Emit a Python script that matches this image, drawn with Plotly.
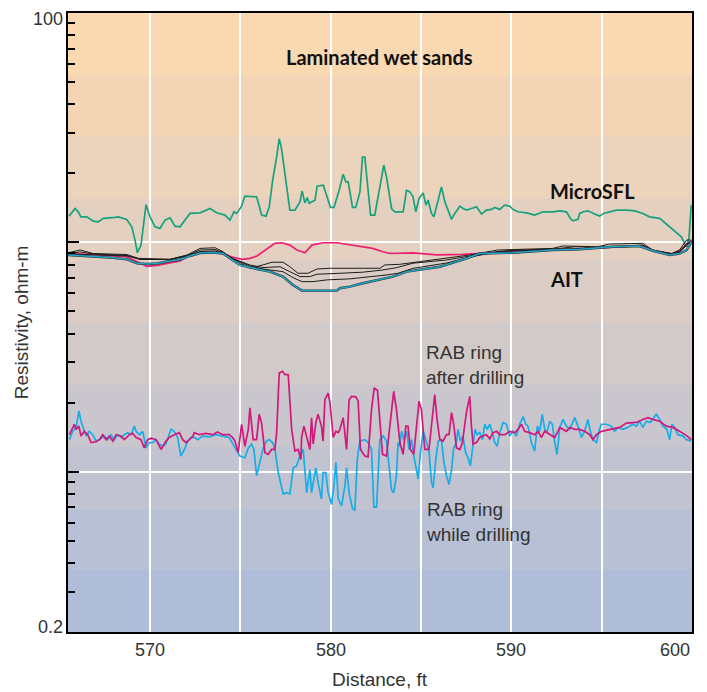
import plotly.graph_objects as go

# ---------------- data (distance in ft, resistivity in ohm-m) ----------------
micro_x = [565.52, 565.85, 566.03, 566.17, 566.50, 566.86, 567.14, 567.42, 568.06, 568.25,
           568.71, 568.99, 569.17, 569.30, 569.50, 569.78, 570.00, 570.28, 570.55, 570.83,
           571.11, 571.38, 571.66, 572.21, 572.77, 573.32, 573.69, 574.15, 574.42, 574.65,
           574.80, 575.07, 575.25, 575.62, 575.90, 576.18, 576.42, 576.60, 576.79, 577.01,
           577.15, 577.28, 577.47, 577.74, 578.02, 578.30, 578.42, 578.57, 578.70, 578.81,
           579.13, 579.25, 579.59, 579.77, 579.99, 580.18, 580.47, 580.69, 580.84, 580.97,
           581.21, 581.39, 581.62, 581.76, 581.89, 582.07, 582.21, 582.44, 582.63, 582.82,
           582.94, 583.09, 583.27, 583.37, 583.55, 584.01, 584.20, 584.38, 584.56, 584.71,
           584.89, 585.12, 585.27, 585.39, 585.58, 585.71, 585.95, 586.13, 586.32, 586.47,
           586.69, 586.87, 587.15, 587.33, 587.52, 587.79, 588.07, 588.35, 588.62, 588.90,
           589.08, 589.36, 589.63, 589.91, 590.09, 590.37, 590.84, 591.29, 591.75, 592.03,
           592.31, 592.68, 593.05, 593.27, 593.41, 593.69, 593.78, 594.00, 594.24, 594.61,
           594.89, 595.11, 595.44, 595.81, 596.37, 596.83, 597.28, 597.65, 598.21, 598.76,
           599.13, 599.41, 599.59, 599.68, 599.83, 599.96]
micro_y = [13.01, 14.05, 13.59, 12.92, 12.92, 12.38, 12.29, 12.72, 12.84, 12.92,
           12.59, 11.69, 10.23, 9.01, 9.73, 14.6, 12.92, 11.69, 11.5, 12.5,
           12.79, 11.77, 11.69, 13.37, 13.45, 14.05, 13.45, 13.15, 12.5, 13.59,
           13.37, 14.38, 15.9, 15.9, 15.79, 13.15, 13.01, 14.3, 18.66, 23.56,
           28.33, 25.63, 19.62, 13.82, 13.82, 15.02, 16.76, 14.87, 15.69, 14.8,
           15.27, 17.57, 17.75, 15.9, 14.2, 14.2, 16.88, 19.82, 18.34, 18.34,
           14.2, 14.2, 16.6, 23.56, 23.56, 16.88, 13.15, 13.15, 15.79, 18.98,
           21.68, 19.29, 15.79, 14.05, 13.59, 13.59, 16.88, 16.6, 15.79, 13.59,
           15.53, 16.43, 14.53, 15.27, 13.37, 12.92, 15.27, 17.45, 15.02, 14.05,
           12.59, 13.37, 14.38, 14.05, 13.82, 14.05, 14.3, 13.28, 13.82, 13.92,
           14.2, 13.92, 14.53, 14.38, 13.92, 13.59, 13.45, 13.15, 13.59, 13.59,
           13.59, 13.72, 13.59, 12.72, 12.41, 12.59, 13.37, 13.59, 13.72, 13.28,
           13.01, 13.37, 13.59, 13.82, 13.82, 13.72, 13.37, 12.92, 12.72, 11.69,
           11.1, 10.57, 9.90, 9.57, 10.4, 14.53]

# AIT curves
ait_deep_x = [565.46, 566.13, 566.85, 567.79, 568.73, 569.28, 569.83, 570.39, 571.11, 571.66,
              572.21, 572.77, 573.48, 574.04, 574.42, 574.98, 575.92, 576.64, 577.36, 577.91,
              578.41, 580.34, 580.51, 581.06, 581.78, 582.72, 583.44, 584.21, 586.04, 587.53,
              588.25, 590.08, 592.29, 593.78, 595.61, 597.10, 597.83, 598.76, 599.31, 599.70,
              599.97]
ait_deep_y = [8.81, 8.76, 8.65, 8.58, 8.43, 8.10, 8.05, 8.09, 8.29, 8.42,
              8.72, 8.98, 9.03, 8.94, 8.52, 7.97, 7.65, 7.45, 7.09, 6.52,
              6.16, 6.16, 6.31, 6.41, 6.63, 6.86, 7.09, 7.45, 7.83, 8.52,
              8.94, 9.00, 9.26, 9.32, 9.57, 9.64, 9.19, 8.81, 8.94, 9.26,
              10.06]

ait_b1_x = [565.46, 566.13, 566.85, 568.73, 569.34, 571.11, 572.05, 572.77, 573.60, 574.04,
            574.42, 575.53, 576.25, 576.75, 577.36, 577.74, 578.19, 578.74, 579.24, 579.96,
            582.72, 583.00, 583.83, 584.93, 586.43, 587.70, 589.25, 590.08, 592.29, 592.84,
            594.78, 595.44, 597.27, 597.83, 598.37, 598.87, 599.31, 599.70, 599.97]
ait_b1_y = [9.00, 9.26, 8.94, 8.85, 8.52, 8.43, 8.81, 9.41, 9.47, 9.10,
            8.66, 7.71, 7.97, 8.19, 8.19, 7.83, 7.33, 7.33, 7.65, 7.71,
            7.71, 7.97, 8.02, 8.23, 8.52, 8.81, 9.26, 9.32, 9.41, 9.64,
            9.57, 9.83, 9.90, 9.26, 9.10, 8.94, 9.26, 10.23, 10.23]

ait_b2_x = [565.46, 566.13, 566.85, 568.73, 569.45, 571.11, 572.05, 572.77, 573.60, 574.04,
            574.42, 575.53, 576.25, 577.19, 577.74, 578.30, 578.85, 579.24, 580.51, 581.78,
            582.89, 583.66, 584.55, 586.43, 587.70, 589.25, 590.08, 592.29, 593.56, 594.89,
            597.27, 597.83, 598.87, 599.31, 599.70, 599.97]
ait_b2_y = [8.94, 9.08, 8.90, 8.76, 8.43, 8.43, 8.76, 9.26, 9.30, 9.03,
            8.59, 7.97, 7.76, 7.83, 7.45, 7.09, 7.09, 7.26, 7.33, 7.41,
            7.58, 7.76, 8.11, 8.38, 8.72, 9.12, 9.23, 9.35, 9.57, 9.49,
            9.73, 9.21, 8.90, 9.17, 9.83, 10.13]

ait_b3_x = [565.46, 566.85, 568.73, 569.45, 571.11, 572.05, 572.77, 573.60, 574.04, 574.42,
            575.53, 576.25, 577.36, 577.91, 578.41, 579.02, 579.79, 581.06, 581.78, 583.11,
            583.72, 584.55, 586.43, 587.70, 589.25, 590.08, 592.29, 594.89, 597.27, 597.83,
            598.87, 599.31, 599.70, 599.97]
ait_b3_y = [8.90, 8.85, 8.72, 8.43, 8.42, 8.72, 9.12, 9.17, 8.98, 8.59,
            7.89, 7.65, 7.45, 7.02, 6.74, 6.74, 6.86, 6.93, 7.02, 7.21,
            7.33, 7.70, 8.13, 8.63, 9.08, 9.17, 9.30, 9.45, 9.64, 9.17,
            8.85, 9.08, 9.73, 10.13]

ait_shallow_x = [565.46, 566.85, 568.73, 569.45, 569.83, 570.39, 571.11, 571.66, 572.21, 572.77,
                 573.32, 573.87, 574.26, 574.59, 575.09, 575.53, 575.92, 576.25, 576.53, 576.91,
                 577.30, 577.74, 578.13, 578.57, 578.96, 579.57, 580.34, 581.06, 581.73, 582.33,
                 582.89, 583.27, 584.55, 585.87, 587.31, 588.81, 590.02, 592.29, 594.89, 597.27,
                 597.83, 598.87, 599.31, 599.70, 599.97]
ait_shallow_y = [8.94, 8.85, 8.63, 8.15, 7.86, 7.93, 8.12, 8.30, 8.81, 9.00,
                 9.04, 9.00, 8.81, 8.61, 8.43, 8.52, 8.72, 9.10, 9.41, 9.90,
                 9.96, 9.73, 9.26, 9.00, 9.73, 9.96, 9.96, 9.73, 9.57, 9.41,
                 9.10, 8.94, 9.00, 8.81, 8.87, 9.00, 9.04, 9.30, 9.45, 9.68,
                 9.21, 8.90, 9.12, 9.83, 10.13]

# RAB ring, after drilling
rab_after_x = [565.54, 565.81, 565.91, 566.06, 566.18, 566.37, 566.55, 566.74, 567.01, 567.20,
               567.38, 567.57, 567.75, 567.94, 568.12, 568.39, 568.58, 568.86, 569.04, 569.23,
               569.50, 569.68, 569.87, 570.06, 570.33, 570.61, 570.88, 571.07, 571.34, 571.62,
               571.81, 571.99, 572.17, 572.36, 572.45, 572.73, 573.10, 573.47, 573.74, 574.02,
               574.39, 574.57, 574.70, 574.88, 575.07, 575.25, 575.44, 575.53, 575.71, 575.90,
               576.04, 576.17, 576.36, 576.54, 576.73, 576.91, 577.01, 577.15, 577.34, 577.47,
               577.65, 577.84, 578.02, 578.20, 578.35, 578.39, 578.52, 578.67, 578.85, 578.94,
               579.03, 579.18, 579.30, 579.49, 579.58, 579.68, 579.86, 579.96, 580.14, 580.29,
               580.42, 580.51, 580.69, 580.88, 581.02, 581.16, 581.39, 581.52, 581.65, 581.89,
               582.07, 582.26, 582.41, 582.59, 582.72, 582.87, 583.09, 583.27, 583.49, 583.64,
               583.83, 584.01, 584.16, 584.28, 584.41, 584.60, 584.75, 584.89, 585.02, 585.21,
               585.44, 585.58, 585.76, 585.89, 586.04, 586.22, 586.41, 586.55, 586.69, 586.81,
               586.96, 587.15, 587.29, 587.51, 587.70, 587.79, 587.88, 588.07, 588.25, 588.43,
               588.62, 588.81, 588.99, 589.18, 589.36, 589.64, 589.91, 590.19, 590.37, 590.56,
               590.74, 591.02, 591.29, 591.48, 591.66, 591.85, 592.12, 592.40, 592.58, 592.68,
               593.05, 593.23, 593.51, 593.78, 594.06, 594.34, 594.52, 594.71, 594.98, 595.44,
               596.00, 596.37, 596.92, 597.28, 597.56, 597.84, 598.21, 598.58, 598.94, 599.31,
               599.68, 599.96]
rab_after_y = [1.45, 1.61, 1.53, 1.58, 1.43, 1.50, 1.45, 1.34, 1.35, 1.38,
               1.45, 1.38, 1.43, 1.36, 1.45, 1.43, 1.38, 1.45, 1.47, 1.41,
               1.38, 1.27, 1.38, 1.40, 1.38, 1.25, 1.36, 1.41, 1.45, 1.48,
               1.38, 1.34, 1.38, 1.42, 1.48, 1.45, 1.47, 1.45, 1.49, 1.45,
               1.45, 1.41, 1.36, 1.21, 1.61, 1.29, 1.53, 1.90, 1.38, 1.38,
               1.78, 1.64, 1.21, 1.19, 1.25, 1.25, 1.48, 2.69, 2.74, 2.65,
               2.65, 1.53, 1.23, 1.25, 1.13, 1.41, 1.58, 1.41, 1.25, 1.72,
               1.32, 1.64, 1.78, 1.58, 1.36, 2.06, 2.20, 2.00, 1.41, 1.50,
               1.48, 1.53, 1.72, 1.25, 2.06, 2.13, 2.12, 2.03, 1.25, 1.17,
               1.16, 1.87, 2.32, 2.26, 1.69, 1.19, 1.17, 1.58, 2.24, 1.87,
               1.34, 1.19, 1.58, 1.58, 1.25, 1.19, 1.53, 2.03, 1.87, 1.25,
               1.25, 1.64, 2.17, 1.69, 1.38, 1.36, 1.45, 1.45, 1.81, 1.61,
               1.27, 1.25, 1.34, 1.81, 2.13, 1.58, 1.32, 1.34, 1.41, 1.43,
               1.45, 1.39, 1.48, 1.50, 1.45, 1.45, 1.50, 1.48, 1.53, 1.61,
               1.50, 1.48, 1.45, 1.50, 1.41, 1.50, 1.45, 1.41, 1.50, 1.56,
               1.50, 1.56, 1.53, 1.53, 1.50, 1.45, 1.38, 1.45, 1.50, 1.53,
               1.56, 1.63, 1.64, 1.69, 1.72, 1.69, 1.66, 1.58, 1.56, 1.50,
               1.44, 1.38]

# RAB ring, while drilling
rab_while_x = [565.54, 565.72, 565.91, 566.06, 566.18, 566.37, 566.46, 566.64, 566.83, 567.01,
               567.20, 567.47, 567.66, 567.84, 568.02, 568.21, 568.40, 568.58, 568.77, 568.95,
               569.13, 569.23, 569.41, 569.60, 569.78, 569.96, 570.15, 570.33, 570.51, 570.70,
               570.88, 571.16, 571.34, 571.53, 571.71, 571.90, 572.09, 572.27, 572.45, 572.64,
               572.91, 573.28, 573.65, 574.02, 574.39, 574.66, 574.98, 575.25, 575.44, 575.62,
               575.75, 575.90, 576.08, 576.27, 576.45, 576.59, 576.78, 576.91, 577.10, 577.37,
               577.56, 577.74, 577.93, 578.11, 578.30, 578.48, 578.67, 578.85, 578.94, 579.18,
               579.30, 579.49, 579.58, 579.73, 579.86, 580.05, 580.18, 580.29, 580.42, 580.60,
               580.79, 580.88, 581.02, 581.21, 581.34, 581.47, 581.61, 581.89, 582.07, 582.26,
               582.39, 582.54, 582.72, 582.91, 583.09, 583.23, 583.37, 583.49, 583.64, 583.73,
               583.83, 583.92, 584.05, 584.20, 584.34, 584.48, 584.60, 584.75, 584.84, 584.97,
               585.12, 585.27, 585.45, 585.58, 585.67, 585.82, 585.95, 586.13, 586.26, 586.41,
               586.55, 586.69, 586.81, 586.96, 587.05, 587.18, 587.32, 587.47, 587.60, 587.73,
               587.84, 587.99, 588.10, 588.25, 588.40, 588.53, 588.66, 588.81, 588.95, 589.08,
               589.21, 589.36, 589.54, 589.73, 589.91, 590.09, 590.28, 590.46, 590.65, 590.80,
               590.92, 591.11, 591.29, 591.44, 591.57, 591.71, 591.85, 591.97, 592.12, 592.27,
               592.40, 592.53, 592.68, 592.86, 593.05, 593.23, 593.51, 593.69, 593.88, 594.06,
               594.24, 594.37, 594.52, 594.71, 594.85, 594.98, 595.26, 595.53, 595.72, 595.90,
               596.18, 596.45, 596.70, 596.92, 597.10, 597.28, 597.47, 597.69, 597.88, 598.02,
               598.21, 598.39, 598.61, 598.76, 598.89, 599.04, 599.22, 599.50, 599.68, 599.96]
rab_while_y = [1.38, 1.50, 1.56, 1.84, 1.66, 1.50, 1.43, 1.50, 1.45, 1.36,
               1.38, 1.43, 1.38, 1.45, 1.38, 1.45, 1.41, 1.45, 1.48, 1.45,
               1.58, 1.50, 1.45, 1.50, 1.27, 1.34, 1.34, 1.38, 1.32, 1.29,
               1.32, 1.53, 1.50, 1.41, 1.17, 1.25, 1.36, 1.41, 1.41, 1.38,
               1.43, 1.42, 1.45, 1.43, 1.41, 1.29, 1.17, 1.15, 1.27, 1.32,
               1.25, 0.96, 1.10, 1.27, 1.36, 1.38, 1.34, 1.26, 0.99, 0.80,
               0.81, 0.80, 1.04, 1.06, 1.17, 1.25, 0.81, 1.02, 0.81, 1.04,
               0.90, 0.76, 0.99, 0.99, 0.81, 0.72, 0.87, 1.10, 0.76, 0.71,
               0.87, 1.04, 0.81, 0.69, 0.68, 1.13, 1.36, 1.38, 1.34, 1.25,
               0.70, 0.70, 1.38, 1.43, 1.36, 1.06, 0.83, 0.81, 0.96, 1.34,
               1.29, 1.50, 1.38, 1.50, 1.25, 1.38, 1.17, 1.02, 0.93, 1.21,
               1.50, 1.38, 1.21, 0.90, 0.85, 1.13, 1.36, 1.38, 1.11, 0.96,
               0.88, 1.02, 1.27, 1.34, 1.53, 1.36, 1.43, 1.21, 1.15, 1.06,
               1.27, 1.53, 1.45, 1.48, 1.38, 1.61, 1.53, 1.61, 1.48, 1.34,
               1.29, 1.48, 1.64, 1.61, 1.43, 1.50, 1.43, 1.61, 1.74, 1.61,
               1.58, 1.34, 1.23, 1.58, 1.50, 1.78, 1.53, 1.48, 1.66, 1.61,
               1.34, 1.19, 1.56, 1.69, 1.58, 1.53, 1.72, 1.58, 1.41, 1.50,
               1.69, 1.50, 1.38, 1.34, 1.50, 1.61, 1.61, 1.58, 1.50, 1.56,
               1.53, 1.56, 1.61, 1.58, 1.66, 1.56, 1.66, 1.64, 1.72, 1.78,
               1.69, 1.58, 1.53, 1.38, 1.61, 1.56, 1.45, 1.43, 1.38, 1.36]

x_tick_vals = [570, 580, 590, 600]
x_grid_vals = [570, 575, 580, 585, 590, 595]
y_major_vals = [1, 10]
y_minor_vals = [0.3, 0.4, 0.5, 0.6, 0.7, 0.8, 0.9, 2, 3, 4, 5, 6, 7, 8, 9,
                20, 30, 40, 50, 60, 70, 80, 90]
band_colors = ["#FAD8B0", "#F3D5B6", "#EBD3BC", "#E3D0C1", "#DBCDC5",
               "#D2CAC9", "#CAC6CD", "#C1C3D1", "#B8C0D5", "#AFBDD9"]

# ---------------- figure ----------------
fig = go.Figure()

def add_line(x, y, color, width, name):
    fig.add_trace(go.Scatter(x=x, y=y, mode="lines", name=name,
                             line=dict(color=color, width=width), hoverinfo="skip"))

add_line(micro_x, micro_y, "#17A27B", 1.7, "MicroSFL")
add_line(ait_shallow_x, ait_shallow_y, "#EC1F70", 1.7, "AIT shallow")
add_line(ait_b1_x, ait_b1_y, "#1c1c1c", 1.0, "AIT 1")
add_line(ait_b2_x, ait_b2_y, "#1c1c1c", 1.0, "AIT 2")
add_line(ait_b3_x, ait_b3_y, "#1c1c1c", 1.0, "AIT 3")
add_line(ait_deep_x, ait_deep_y, "#2a2a2a", 2.4, "AIT deep edge")
add_line(ait_deep_x, ait_deep_y, "#20A6C8", 1.5, "AIT deep")
add_line(rab_while_x, rab_while_y, "#16ADE8", 1.7, "RAB ring while drilling")
add_line(rab_after_x, rab_after_y, "#D3177B", 1.7, "RAB ring after drilling")

# horizontal colour bands behind the plot
n = len(band_colors)
for i, c in enumerate(band_colors):
    fig.add_shape(type="rect", xref="paper", yref="paper",
                  x0=0, x1=1, y0=1 - (i + 1) / n, y1=1 - i / n,
                  fillcolor=c, line=dict(width=0), layer="below")

label_font = dict(family="Liberation Sans, Arial, sans-serif", size=18, color="#333333")
bold_font = dict(family="Lato, Open Sans, sans-serif", size=20, color="#111111")
body_font = dict(family="Liberation Sans, Arial, sans-serif", size=19, color="#333333")

annotations = []
for v in x_tick_vals:
    annotations.append(dict(x=v, y=0, xref="x", yref="paper", text=str(v),
                            showarrow=False, yanchor="top", yshift=-6,
                            xanchor="right" if v == 600 else "center",
                            font=label_font))
annotations += [
    dict(x=0, y=1, xref="paper", yref="paper", text="100", showarrow=False,
         xanchor="right", yanchor="middle", xshift=-3, yshift=-6, font=label_font),
    dict(x=0, y=0, xref="paper", yref="paper", text="0.2", showarrow=False,
         xanchor="right", yanchor="middle", xshift=-3, yshift=5, font=label_font),
    dict(x=0.5, y=-0.077, xref="paper", yref="paper", text="Distance, ft", showarrow=False,
         xanchor="center", yanchor="middle", font=body_font),
    dict(x=-0.074, y=0.5, xref="paper", yref="paper", text="Resistivity, ohm-m",
         showarrow=False, textangle=-90, xanchor="center", yanchor="middle", font=body_font),
    dict(x=582.72, y=0.929, xref="x", yref="paper", text="<b>Laminated wet sands</b>",
         showarrow=False, xanchor="center", yanchor="middle", font=bold_font),
    dict(x=594.5, y=0.712, xref="x", yref="paper", text="<b>MicroSFL</b>",
         showarrow=False, xanchor="center", yanchor="middle", font=bold_font),
    dict(x=593.06, y=0.570, xref="x", yref="paper", text="<b>AIT</b>",
         showarrow=False, xanchor="center", yanchor="middle", font=bold_font),
    dict(x=585.15, y=0.432, xref="x", yref="paper", text="RAB ring<br>after drilling",
         showarrow=False, xanchor="left", yanchor="middle", align="left", font=body_font),
    dict(x=585.15, y=0.178, xref="x", yref="paper", text="RAB ring<br>while drilling",
         showarrow=False, xanchor="left", yanchor="middle", align="left", font=body_font),
]

fig.update_layout(
    width=707, height=692,
    margin=dict(l=68, r=15, t=11, b=60),
    paper_bgcolor="white", plot_bgcolor="#E0D0C4",
    showlegend=False,
    annotations=annotations,
    xaxis=dict(range=[565.46, 600], tickvals=x_grid_vals, showticklabels=False,
               ticks="", showgrid=True, gridcolor="white", gridwidth=1.5,
               zeroline=False, showline=True, linecolor="black", linewidth=1.5,
               mirror=True),
    yaxis=dict(type="log", range=[-0.69897, 2], tickvals=y_major_vals,
               showticklabels=False, ticks="inside", ticklen=11, tickwidth=1.5,
               tickcolor="black", showgrid=True, gridcolor="white", gridwidth=1.5,
               zeroline=False, showline=True, linecolor="black", linewidth=1.5,
               mirror=True,
               minor=dict(tickvals=y_minor_vals, ticks="inside", ticklen=7,
                          tickwidth=1.5, tickcolor="black", showgrid=False)),
)

fig.write_html("out.html")
